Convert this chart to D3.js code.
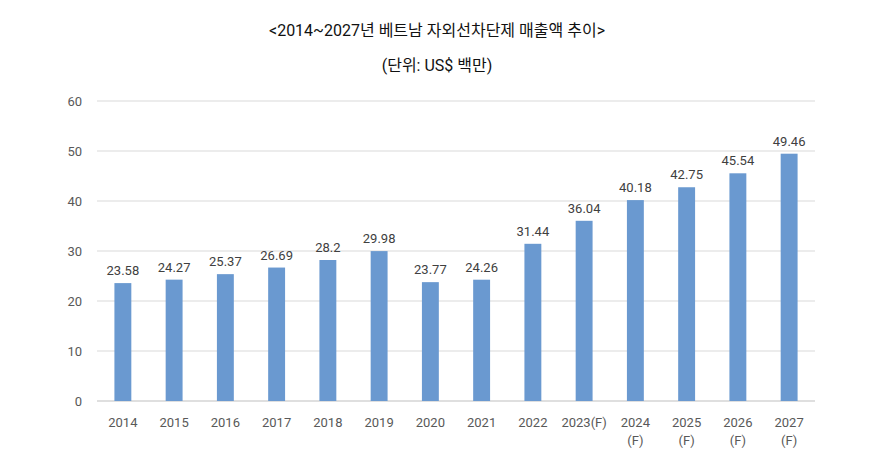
<!DOCTYPE html>
<html><head><meta charset="utf-8">
<script src="https://cdn.jsdelivr.net/npm/d3@7"></script>
<style>body{margin:0;background:#fff;font-family:Roboto,"Noto Sans CJK KR",sans-serif}</style>
</head><body><svg id="chart" width="875" height="465"></svg>
<script>
const categories = ["2014","2015","2016","2017","2018","2019","2020","2021","2022","2023(F)","2024\n(F)","2025\n(F)","2026\n(F)","2027\n(F)"];
const values = [23.58,24.27,25.37,26.69,28.2,29.98,23.77,24.26,31.44,36.04,40.18,42.75,45.54,49.46];
const yTicks = [0,10,20,30,40,50,60];

const svg = d3.select("#chart");
const x = d3.scaleBand().domain(categories).range([97.5, 814.5]).paddingInner(0.67).paddingOuter(0.33);
const y = d3.scaleLinear().domain([0, 60]).range([401, 101]);

svg.append("text").attr("x", 437).attr("y", 36).attr("text-anchor", "middle")
  .attr("font-size", 16).attr("fill", "#111").text("<2014~2027년 베트남 자외선차단제 매출액 추이>");
svg.append("text").attr("x", 437).attr("y", 71).attr("text-anchor", "middle")
  .attr("font-size", 16).attr("fill", "#111").text("(단위: US$ 백만)");

svg.append("g").selectAll("line").data(yTicks).join("line")
  .attr("x1", 97).attr("x2", 815).attr("y1", d => y(d)).attr("y2", d => y(d))
  .attr("stroke", d => d === 0 ? "#bfbfbf" : "#d9d9d9").attr("stroke-width", 1);
svg.append("g").selectAll("text").data(yTicks).join("text")
  .attr("x", 82).attr("y", d => y(d) + 5).attr("text-anchor", "end")
  .attr("font-size", 13).attr("fill", "#595959").text(d => d);

svg.append("g").selectAll("rect").data(values).join("rect")
  .attr("x", (d, i) => x(categories[i])).attr("width", x.bandwidth())
  .attr("y", d => y(d)).attr("height", d => y(0) - y(d)).attr("fill", "#6a99d0");

svg.append("g").selectAll("text").data(values).join("text")
  .attr("x", (d, i) => x(categories[i]) + x.bandwidth() / 2).attr("y", d => y(d) - 8)
  .attr("text-anchor", "middle").attr("font-size", 13).attr("fill", "#404040").text(d => d);

const xl = svg.append("g").selectAll("text").data(categories).join("text")
  .attr("x", d => x(d) + x.bandwidth() / 2).attr("y", 427)
  .attr("text-anchor", "middle").attr("font-size", 13).attr("fill", "#595959");
xl.each(function(d) {
  const t = d3.select(this);
  d.split("\n").forEach((s, i) => t.append("tspan").attr("x", t.attr("x")).attr("dy", i ? 18 : 0).text(s));
});
</script></body></html>
